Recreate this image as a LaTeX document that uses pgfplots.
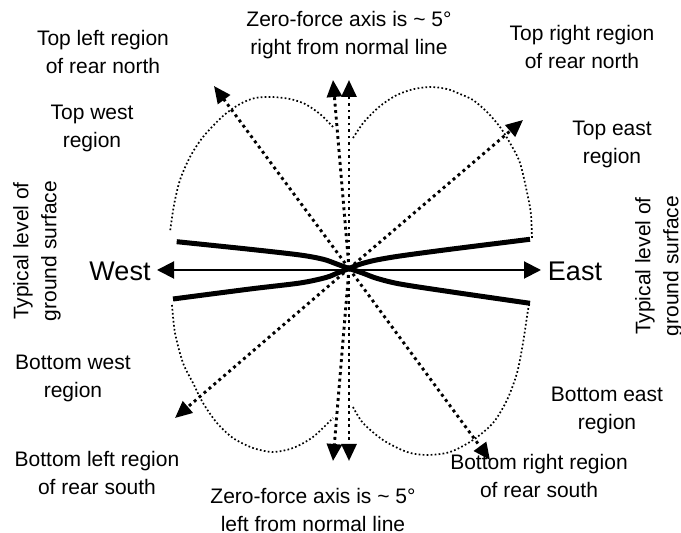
\documentclass[border=0pt]{standalone}
\usepackage{fontspec}
\setmainfont{Liberation Sans}
\usepackage{pgfplots}
\pgfplotsset{compat=1.18}
\usetikzlibrary{arrows.meta}
\tikzset{
  lobe/.style={black, line width=0.85pt, dash pattern=on 0.85pt off 1.15pt, smooth, tension=0.5},
  darr/.style={black, line width=1.45pt, dash pattern=on 1.45pt off 1.8pt, -{Triangle[length=8.5pt,width=7.5pt]}},
  lbl/.style={align=center, inner sep=0pt, font=\fontsize{10.5}{14}\selectfont},
}
\begin{document}
\begin{tikzpicture}
\useasboundingbox (0,0) rectangle (340.5pt,266.5pt);
\begin{axis}[at={(0,0)}, anchor=south west, scale only axis,
  width=340.5pt, height=266.5pt,
  xmin=0, xmax=681, ymin=0, ymax=533, y dir=reverse,
  hide axis, clip=false,
]
% dotted lobes
\addplot[lobe] coordinates {(333,127) (320,114) (305,104) (290,99) (272,97) (255,98) (240,104) (223,116) (203,137) (190,157) (180,180) (174,205) (170,232)};
\addplot[lobe] coordinates {(353,138) (364,122) (379,107) (395,96) (412,89.5) (430,87) (447,89) (460,94) (473,100) (487,112) (500,127) (510,143) (520,163) (528,197) (531,215) (532,240)};
\addplot[lobe] coordinates {(172,305) (175,333) (183,363) (193,383) (203,403) (217,423) (233,438) (253,448) (273,452) (293,448) (313,437) (333,418)};
\addplot[lobe] coordinates {(353,407) (363,423) (383,440) (407,452) (427,455) (450,452) (473,440) (493,423) (507,400) (517,373) (523,343) (528,310) (530,302)};
% dotted arrows
\addplot[darr] coordinates {(349,268.5) (214,86)};
\addplot[darr] coordinates {(349,268.5) (333,80)};
\addplot[darr] coordinates {(349,268.5) (349,80)};
\addplot[darr] coordinates {(349,268.5) (523,120)};
\addplot[darr] coordinates {(349,268.5) (175,418)};
\addplot[darr] coordinates {(349,268.5) (333,461)};
\addplot[darr] coordinates {(349,268.5) (349,461)};
\addplot[darr] coordinates {(349,268.5) (490,460)};
% East-West arrow
\addplot[black, line width=1pt, {Triangle[length=8.5pt,width=8.5pt]}-{Triangle[length=8.5pt,width=8.5pt]}] coordinates {(157,270) (541,270)};
% thick curves
\addplot[black, line width=2.5pt, smooth, tension=0.5] coordinates {(176.7,241.7) (250,249.3) (300,255) (323.3,259.3) (336.7,264) (349,268.5) (361.7,272.7) (376.7,278.3) (400,284) (450,291.7) (530,303.3)};
\addplot[black, line width=2.5pt, smooth, tension=0.5] coordinates {(173,299) (250,289) (300,283) (326,277.5) (338,272.8) (349,268.5) (360,264.2) (375,260.3) (400,256) (450,249.3) (530,239.3)};
% labels
\node[lbl] at (axis cs:349,35) {Zero-force axis is \textasciitilde{} 5°\\right from normal line};
\node[lbl] at (axis cs:103,52) {Top left region\\of rear north};
\node[lbl] at (axis cs:582,47) {Top right region\\of rear north};
\node[lbl] at (axis cs:92,128) {Top west\\region};
\node[lbl] at (axis cs:612,144) {Top east\\region};
\node[lbl] at (axis cs:73,378) {Bottom west\\region};
\node[lbl] at (axis cs:607,410) {Bottom east\\region};
\node[lbl] at (axis cs:97,473) {Bottom left region\\of rear south};
\node[lbl] at (axis cs:539,476) {Bottom right region\\of rear south};
\node[lbl] at (axis cs:313,510) {Zero-force axis is \textasciitilde{} 5°\\left from normal line};
\node[lbl, rotate=90] at (axis cs:37,251) {Typical level of\\ground surface};
\node[lbl, rotate=90] at (axis cs:659,266) {Typical level of\\ground surface};
\node[inner sep=0pt, font=\fontsize{13.5}{15}\selectfont] at (axis cs:120,271) {West};
\node[inner sep=0pt, font=\fontsize{13.5}{15}\selectfont] at (axis cs:575,271) {East};
\end{axis}
\end{tikzpicture}
\end{document}
